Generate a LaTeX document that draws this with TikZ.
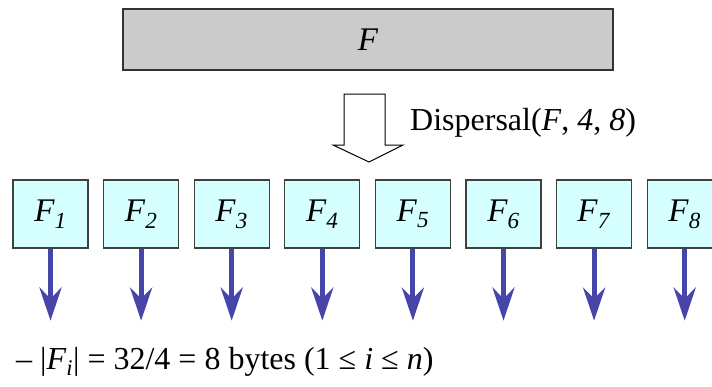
\documentclass[tikz,border=0pt]{standalone}
\usepackage{fontspec}
\setmainfont{Liberation Serif}
\usetikzlibrary{arrows.meta}

\definecolor{filegray}{HTML}{CBCBCB}
\definecolor{piececyan}{HTML}{D6FFFF}
\definecolor{arrowblue}{HTML}{4646AA}

\newcommand{\piecelabel}[1]{\textit{F}\textsubscript{\textit{#1}}}

\begin{document}
\begin{tikzpicture}[x=1pt,y=-1pt,
    filebox/.style={draw=black!80,line width=1.3pt,fill=filegray,
        minimum width=490pt,minimum height=61pt,inner sep=0pt,
        font=\fontsize{33}{40}\selectfont},
    piece/.style={draw=black!75,line width=1.3pt,fill=piececyan,
        minimum width=75pt,minimum height=68pt,inner sep=0pt,
        font=\fontsize{33}{40}\selectfont},
    down/.style={arrowblue,line width=5pt,
        -{Stealth[length=33pt,width=22pt,inset=11pt]}},
    note/.style={inner sep=0pt,anchor=west,font=\fontsize{32}{38}\selectfont}]
    \useasboundingbox (0,0) rectangle (712,386);

    % the whole file
    \node[filebox] (file) at (368,39.5) {\textit{F}};

    % hollow arrow for the dispersal step
    \draw[line width=1pt,fill=white] (344,94) -- (385,94) -- (385,145) -- (403,145)
        -- (369,162) -- (333,145) -- (344,145) -- cycle;
    \node[note] (disp) at (410,123) {Dispersal(\textit{F}, \textit{4}, \textit{8})};

    % the eight pieces, each with its arrow
    \foreach \i in {1,...,8} {
        \node[piece] (f\i) at ({50.5+90.6*(\i-1)},214) {\piecelabel{\i}};
        \draw[down] (f\i.south) -- ++(0,72);
    }

    \node[note] (size) at (16,362) {– |\piecelabel{i}| = 32/4 = 8 bytes (1 ≤ \textit{i} ≤ \textit{n})};
\end{tikzpicture}
\end{document}
